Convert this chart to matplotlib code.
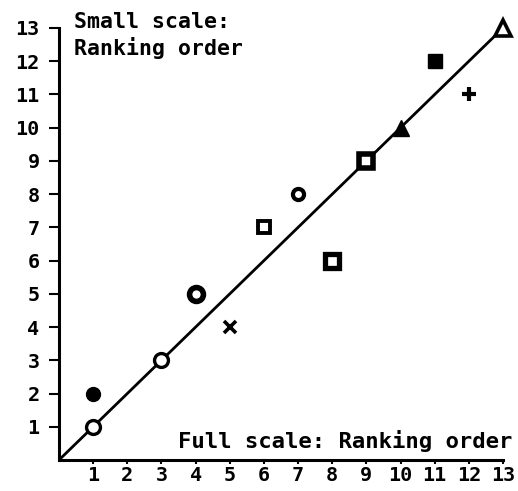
import matplotlib
matplotlib.use("Agg")
import matplotlib.pyplot as plt

full_scale = [1, 1, 3, 4, 5, 6, 7, 8, 9, 10, 11, 12, 13]
small_scale = [1, 2, 3, 5, 4, 7, 8, 6, 9, 10, 12, 11, 13]
x_ticks = list(range(1, 14))
y_ticks = list(range(1, 14))

# marker styles: (marker, size, facecolor, edgewidth)
styles = [
    ("o", 10, "white", 2.4),
    ("o", 10, "black", 1.0),
    ("o", 10, "white", 2.4),
    ("o", 10, "white", 4.0),
    ("x", 9, "black", 2.6),
    ("s", 9, "white", 2.8),
    ("o", 8, "white", 3.0),
    ("s", 9.5, "white", 3.8),
    ("s", 10, "white", 4.0),
    ("^", 12, "black", 1.0),
    ("s", 10, "black", 1.0),
    ("+", 10, "black", 3.0),
    ("^", 11, "white", 2.6),
]

plt.rcParams['font.family'] = ['DejaVu Sans Mono']
plt.rcParams['font.weight'] = 'bold'

fig = plt.figure(figsize=(5.18, 4.91), dpi=100)
ax = fig.add_axes([59/518, 31/491, 444/518, 432/491])

lim = max(full_scale)
ax.plot([0, lim], [0, lim], color="black", lw=2.0, zorder=2)

for xv, yv, (m, s, fc, ew) in zip(full_scale, small_scale, styles):
    ax.plot([xv], [yv], marker=m, markersize=s, markerfacecolor=fc,
            markeredgecolor="black", markeredgewidth=ew, linestyle="none",
            clip_on=False, zorder=3)

ax.set_xlim(0, 13)
ax.set_ylim(0, 13)
ax.set_xticks(x_ticks)
ax.set_yticks(y_ticks)
ax.set_xticklabels([str(v) for v in x_ticks])
ax.set_yticklabels([str(v) for v in y_ticks])

for sp in ["top", "right"]:
    ax.spines[sp].set_visible(False)
for sp in ["left", "bottom"]:
    ax.spines[sp].set_linewidth(2.2)

ax.tick_params(axis="x", direction="out", length=3, width=1.5, pad=1, labelsize=14.5)
ax.tick_params(axis="y", direction="out", length=7, width=1.5, pad=7, labelsize=14.5)

ax.text(0.45, 13.47, "Small scale:\nRanking order", fontsize=15.5, fontweight="bold",
        ha="left", va="top", linespacing=1.25)
ax.text(13.27, 0.35, "Full scale: Ranking order", fontsize=16, fontweight="bold",
        ha="right", va="baseline", clip_on=False)

fig.savefig("out.png", dpi=100, facecolor="white")
